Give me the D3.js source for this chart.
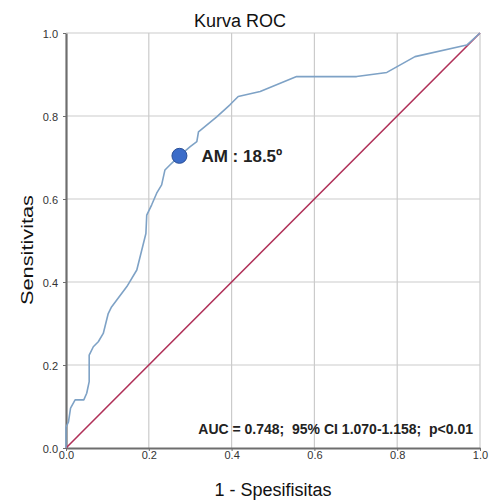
<!DOCTYPE html>
<html>
<head>
<meta charset="utf-8">
<script src="https://cdn.jsdelivr.net/npm/d3@7"></script>
<style>
  body { margin: 0; background: #fff; }
  svg { display: block; }
</style>
</head>
<body>
<svg id="chart" width="489" height="502"></svg>
<script>
// kurva ROC (1 - spesifisitas, sensitivitas)
const rocX = [0, 0, 0.006, 0.011, 0.022, 0.043, 0.05, 0.056, 0.056, 0.066, 0.078, 0.09, 0.102, 0.11, 0.147, 0.171, 0.179, 0.193, 0.195, 0.207, 0.219, 0.231, 0.239, 0.251, 0.274, 0.3, 0.316, 0.32, 0.364, 0.396, 0.416, 0.469, 0.557, 0.702, 0.775, 0.843, 0.968, 1];
const rocY = [0, 0.05, 0.063, 0.096, 0.116, 0.116, 0.132, 0.16, 0.224, 0.244, 0.256, 0.276, 0.324, 0.34, 0.389, 0.429, 0.461, 0.517, 0.561, 0.586, 0.614, 0.634, 0.67, 0.682, 0.704, 0.726, 0.738, 0.762, 0.798, 0.827, 0.847, 0.859, 0.895, 0.895, 0.905, 0.943, 0.971, 1];
// garis referensi
const refX = [0, 1];
const refY = [0, 1];
// titik potong AM
const cutX = [0.274];
const cutY = [0.704];
const cutLabel = "AM : 18.5º";
const ticks = [0, 0.2, 0.4, 0.6, 0.8, 1.0];
const aucText = "AUC = 0.748;  95% CI 1.070-1.158;  p<0.01";

const svg = d3.select("#chart");
const mLeft = 66, mRight = 480, mTop = 33, mBottom = 448;

const x = d3.scaleLinear().domain([0, 1]).range([mLeft, mRight]);
const y = d3.scaleLinear().domain([0, 1]).range([mBottom, mTop]);

// grid
const grid = svg.append("g").attr("stroke", "#cbcbcb").attr("stroke-width", 1.2);
grid.selectAll("line.gx").data(ticks.slice(1)).enter().append("line")
  .attr("x1", (d) => x(d)).attr("x2", (d) => x(d))
  .attr("y1", mTop).attr("y2", mBottom);
grid.selectAll("line.gy").data(ticks.slice(1)).enter().append("line")
  .attr("y1", (d) => y(d)).attr("y2", (d) => y(d))
  .attr("x1", mLeft).attr("x2", mRight);

// axes
const font = "'Liberation Sans', Arial, sans-serif";
const xAxis = svg.append("g").attr("transform", `translate(0,${mBottom})`)
  .call(d3.axisBottom(x).tickValues(ticks).tickFormat(d3.format(".1f")).tickSize(3).tickSizeOuter(0));
const yAxis = svg.append("g").attr("transform", `translate(${mLeft},0)`)
  .call(d3.axisLeft(y).tickValues(ticks).tickFormat(d3.format(".1f")).tickSize(3).tickSizeOuter(0));
[xAxis, yAxis].forEach((a) => {
  a.select(".domain").attr("stroke", "#6e6e6e").attr("stroke-width", 2.2);
  a.selectAll(".tick line").attr("stroke", "#6e6e6e");
  a.selectAll(".tick text").attr("fill", "#333").style("font-family", font).style("font-size", "11px");
});
xAxis.selectAll(".tick text").attr("y", 3).attr("dy", "0.71em");
yAxis.selectAll(".tick text").attr("x", -8).attr("dy", "0.45em");

// reference line
const line = d3.line().x((d) => x(d[0])).y((d) => y(d[1]));
svg.append("path")
  .datum(refX.map((v, i) => [v, refY[i]]))
  .attr("fill", "none").attr("stroke", "#b03058").attr("stroke-width", 1.6)
  .attr("d", line);

// ROC curve
svg.append("path")
  .datum(rocX.map((v, i) => [v, rocY[i]]))
  .attr("fill", "none").attr("stroke", "#7ea2c6").attr("stroke-width", 1.6)
  .attr("stroke-linejoin", "round")
  .attr("d", line);

// cut-off point
svg.selectAll("circle.cut").data(cutX).enter().append("circle")
  .attr("cx", (d) => x(d)).attr("cy", (d, i) => y(cutY[i]))
  .attr("r", 7.5).attr("fill", "#3b6cc9").attr("stroke", "#2a4f96").attr("stroke-width", 1);

svg.append("text")
  .attr("x", x(cutX[0]) + 22).attr("y", y(cutY[0]) + 6)
  .style("font-family", font).style("font-weight", "bold").style("font-size", "17px")
  .attr("fill", "#222").text(cutLabel);

svg.append("text")
  .attr("x", 473).attr("y", 434).attr("text-anchor", "end")
  .style("font-family", font).style("font-weight", "bold").style("font-size", "14px")
  .style("white-space", "pre")
  .attr("fill", "#222").text(aucText);

// titles
svg.append("text").attr("x", 240).attr("y", 27).attr("text-anchor", "middle")
  .style("font-family", font).style("font-size", "18px").attr("fill", "#111").text("Kurva ROC");
svg.append("text").attr("x", 273).attr("y", 496).attr("text-anchor", "middle")
  .style("font-family", font).style("font-size", "18px").attr("fill", "#111").text("1 - Spesifisitas");
svg.append("text").attr("transform", "translate(33,250) rotate(-90)").attr("text-anchor", "middle")
  .attr("textLength", 110).attr("lengthAdjust", "spacingAndGlyphs")
  .style("font-family", font).style("font-size", "17px").attr("fill", "#111").text("Sensitivitas");
</script>
</body>
</html>
